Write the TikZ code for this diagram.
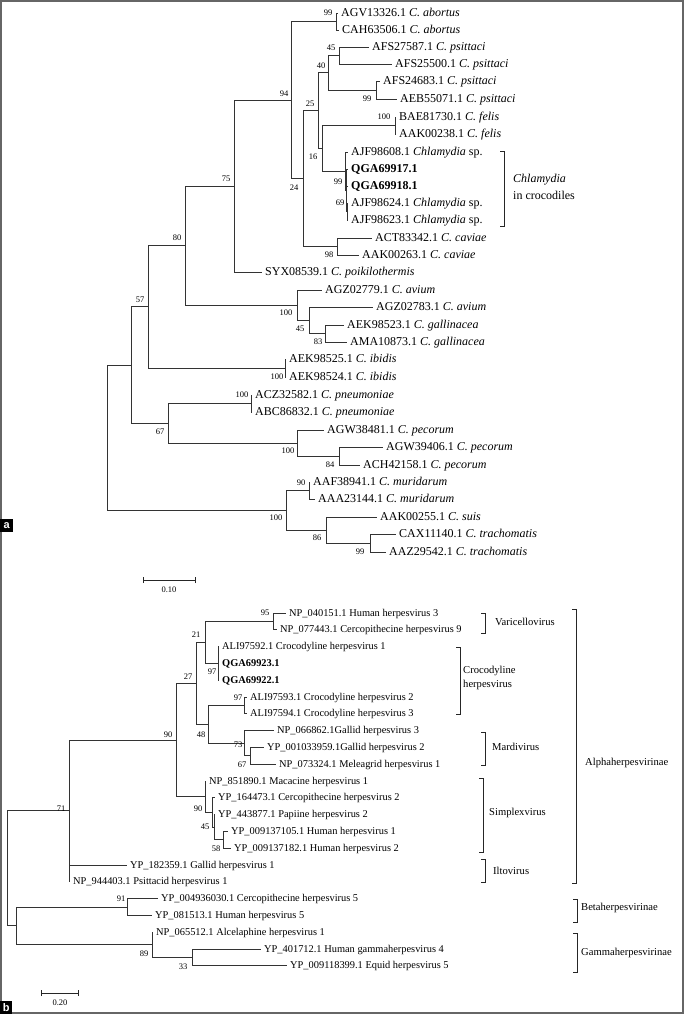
\documentclass[tikz,border=0pt]{standalone}
\usepackage{fontspec}
\setmainfont{Liberation Serif}
\newfontfamily\panelfont{Liberation Sans}
\begin{document}
\begin{tikzpicture}[x=1pt,y=-1pt,
  br/.style={draw=black!80, line width=0.9pt},
  la/.style={anchor=west, inner xsep=3pt, inner ysep=0pt, text height=9pt, text depth=2pt, font=\fontsize{12}{12}\selectfont},
  lb/.style={anchor=west, inner xsep=3pt, inner ysep=0pt, text height=7.6pt, text depth=1.6pt, font=\fontsize{10.4}{11}\selectfont},
  bs/.style={inner sep=0pt, font=\fontsize{8.5}{9}\selectfont},
  grpa/.style={anchor=west, inner sep=0pt, font=\fontsize{12}{12}\selectfont},
  grpb/.style={anchor=west, inner sep=0pt, font=\fontsize{10.6}{11}\selectfont},
  brk/.style={draw=black!85, line width=0.9pt},
  sbar/.style={draw=black!85, line width=0.9pt},
  plab/.style={fill=black, text=white, inner sep=0pt, minimum width=13pt, minimum height=13pt, font=\panelfont\bfseries\fontsize{11}{11}\selectfont}
]
\useasboundingbox (0,0) rectangle (684,1014);
\draw[draw=black!60, line width=2pt] (1,1) rectangle (683,1013);

%%%%%%%%%%%%%%%% PANEL A %%%%%%%%%%%%%%%%
\coordinate (ra) at (107,437.6);
\coordinate (nA) at (131,365);
\coordinate (n57) at (148,306.8);
\coordinate (n80) at (185,245.6);
\coordinate (n75) at (234,186);
\coordinate (n94) at (291,100);
\coordinate (n99a) at (336,21.5);
\coordinate (n24) at (303,178.5);
\coordinate (n25) at (318,110.5);
\coordinate (n40) at (328,72.75);
\coordinate (n45) at (339,55.5);
\coordinate (n99p) at (376,90);
\coordinate (n16) at (322,148.3);
\coordinate (n100f) at (395,125.5);
\coordinate (n99c) at (345,171.1);
\coordinate (ncs) at (346,190.25);
\coordinate (n69) at (347,211.5);
\coordinate (n98) at (337,246.5);
\coordinate (n100v) at (297,305.1);
\coordinate (n45b) at (309,320.25);
\coordinate (n83) at (325,333.5);
\coordinate (n100i) at (285,368);
\coordinate (n67) at (168,423.25);
\coordinate (n100pn) at (251,403.5);
\coordinate (n100pe) at (297,443);
\coordinate (n84) at (339,456);
\coordinate (n100m) at (286,510.25);
\coordinate (n90m) at (309,490.5);
\coordinate (n86) at (326,530);
\coordinate (n99t) at (370,543);

\node[la] (a1) at (338,13) {AGV13326.1 \textit{C. abortus}};
\node[la] (a2) at (339,30) {CAH63506.1 \textit{C. abortus}};
\node[la] (a3) at (369,47) {AFS27587.1 \textit{C. psittaci}};
\node[la] (a4) at (392,64) {AFS25500.1 \textit{C. psittaci}};
\node[la] (a5) at (380,81) {AFS24683.1 \textit{C. psittaci}};
\node[la] (a6) at (397,99) {AEB55071.1 \textit{C. psittaci}};
\node[la] (a7) at (396,117) {BAE81730.1 \textit{C. felis}};
\node[la] (a8) at (396,134) {AAK00238.1 \textit{C. felis}};
\node[la] (a9) at (348,152) {AJF98608.1 \textit{Chlamydia} sp.};
\node[la] (a10) at (348,169) {\textbf{QGA69917.1}};
\node[la] (a11) at (348,186) {\textbf{QGA69918.1}};
\node[la] (a12) at (348,203) {AJF98624.1 \textit{Chlamydia} sp.};
\node[la] (a13) at (348,220) {AJF98623.1 \textit{Chlamydia} sp.};
\node[la] (a14) at (372,238) {ACT83342.1 \textit{C. caviae}};
\node[la] (a15) at (359,255) {AAK00263.1 \textit{C. caviae}};
\node[la] (a16) at (262,272) {SYX08539.1 \textit{C. poikilothermis}};
\node[la] (a17) at (322,290) {AGZ02779.1 \textit{C. avium}};
\node[la] (a18) at (373,307) {AGZ02783.1 \textit{C. avium}};
\node[la] (a19) at (344,325) {AEK98523.1 \textit{C. gallinacea}};
\node[la] (a20) at (347,342) {AMA10873.1 \textit{C. gallinacea}};
\node[la] (a21) at (286,359) {AEK98525.1 \textit{C. ibidis}};
\node[la] (a22) at (286,377) {AEK98524.1 \textit{C. ibidis}};
\node[la] (a23) at (252,395) {ACZ32582.1 \textit{C. pneumoniae}};
\node[la] (a24) at (252,412) {ABC86832.1 \textit{C. pneumoniae}};
\node[la] (a25) at (324,430) {AGW38481.1 \textit{C. pecorum}};
\node[la] (a26) at (383,447) {AGW39406.1 \textit{C. pecorum}};
\node[la] (a27) at (360,465) {ACH42158.1 \textit{C. pecorum}};
\node[la] (a28) at (310,482) {AAF38941.1 \textit{C. muridarum}};
\node[la] (a29) at (315,499) {AAA23144.1 \textit{C. muridarum}};
\node[la] (a30) at (377,517) {AAK00255.1 \textit{C. suis}};
\node[la] (a31) at (396,534) {CAX11140.1 \textit{C. trachomatis}};
\node[la] (a32) at (386,552) {AAZ29542.1 \textit{C. trachomatis}};

\draw[br] (ra) |- (nA);  \draw[br] (ra) |- (n100m);
\draw[br] (nA) |- (n57); \draw[br] (nA) |- (n67);
\draw[br] (n57) |- (n80); \draw[br] (n57) |- (n100i);
\draw[br] (n80) |- (n75); \draw[br] (n80) |- (n100v);
\draw[br] (n75) |- (n94); \draw[br] (n75) |- (a16.west);
\draw[br] (n94) |- (n99a); \draw[br] (n94) |- (n24);
\draw[br] (n99a) |- (a1.west); \draw[br] (n99a) |- (a2.west);
\draw[br] (n24) |- (n25); \draw[br] (n24) |- (n98);
\draw[br] (n25) |- (n40); \draw[br] (n25) |- (n16);
\draw[br] (n40) |- (n45); \draw[br] (n40) |- (n99p);
\draw[br] (n45) |- (a3.west); \draw[br] (n45) |- (a4.west);
\draw[br] (n99p) |- (a5.west); \draw[br] (n99p) |- (a6.west);
\draw[br] (n16) |- (n100f); \draw[br] (n16) |- (n99c);
\draw[br] (n100f) |- (a7.west); \draw[br] (n100f) |- (a8.west);
\draw[br] (n99c) |- (a9.west); \draw[br] (n99c) |- (ncs);
\draw[br] (ncs) |- (a10.west); \draw[br] (ncs) |- (a11.west); \draw[br] (ncs) |- (n69);
\draw[br] (n69) |- (a12.west); \draw[br] (n69) |- (a13.west);
\draw[br] (n98) |- (a14.west); \draw[br] (n98) |- (a15.west);
\draw[br] (n100v) |- (a17.west); \draw[br] (n100v) |- (n45b);
\draw[br] (n45b) |- (a18.west); \draw[br] (n45b) |- (n83);
\draw[br] (n83) |- (a19.west); \draw[br] (n83) |- (a20.west);
\draw[br] (n100i) |- (a21.west); \draw[br] (n100i) |- (a22.west);
\draw[br] (n67) |- (n100pn); \draw[br] (n67) |- (n100pe);
\draw[br] (n100pn) |- (a23.west); \draw[br] (n100pn) |- (a24.west);
\draw[br] (n100pe) |- (a25.west); \draw[br] (n100pe) |- (n84);
\draw[br] (n84) |- (a26.west); \draw[br] (n84) |- (a27.west);
\draw[br] (n100m) |- (n90m); \draw[br] (n100m) |- (n86);
\draw[br] (n90m) |- (a28.west); \draw[br] (n90m) |- (a29.west);
\draw[br] (n86) |- (a30.west); \draw[br] (n86) |- (n99t);
\draw[br] (n99t) |- (a31.west); \draw[br] (n99t) |- (a32.west);

% bootstrap values a
\node[bs] (ba1) at (328,13) {99};
\node[bs] (ba2) at (331,48) {45};
\node[bs] (ba3) at (321,66) {40};
\node[bs] (ba4) at (367,99) {99};
\node[bs] (ba5) at (284,94) {94};
\node[bs] (ba6) at (310,104) {25};
\node[bs] (ba7) at (384,117) {100};
\node[bs] (ba8) at (313,157) {16};
\node[bs] (ba9) at (294,188) {24};
\node[bs] (ba10) at (338,182) {99};
\node[bs] (ba11) at (340,203) {69};
\node[bs] (ba12) at (226,179) {75};
\node[bs] (ba13) at (329,255) {98};
\node[bs] (ba14) at (177,238) {80};
\node[bs] (ba15) at (140,300) {57};
\node[bs] (ba16) at (286,313) {100};
\node[bs] (ba17) at (300,329) {45};
\node[bs] (ba18) at (318,342) {83};
\node[bs] (ba19) at (277,377) {100};
\node[bs] (ba20) at (242,395) {100};
\node[bs] (ba21) at (160,432) {67};
\node[bs] (ba22) at (288,451) {100};
\node[bs] (ba23) at (330,465) {84};
\node[bs] (ba24) at (301,483) {90};
\node[bs] (ba25) at (276,518) {100};
\node[bs] (ba26) at (317,538) {86};
\node[bs] (ba27) at (360,552) {99};

% clade bracket a
\draw[brk] (500,151) -- (504,151) -- (504,226) -- (500,226);
\node[grpa] (ga1) at (513,180) {\textit{Chlamydia}};
\node[grpa] (ga2) at (513,195) {in crocodiles};

% scale bar a
\coordinate (sa1) at (143,580);
\coordinate (sa2) at (195,580);
\draw[sbar] (sa1) -- (sa2);
\draw[sbar] ([yshift=-3pt]sa1) -- ([yshift=3pt]sa1);
\draw[sbar] ([yshift=-3pt]sa2) -- ([yshift=3pt]sa2);
\node[bs] (sal) at (169,590) {0.10};

\node[plab, anchor=north west] (pa) at (0,519) {a};

%%%%%%%%%%%%%%%% PANEL B %%%%%%%%%%%%%%%%
\coordinate (m95) at (273,621.4);
\coordinate (m97) at (218,663.4);
\coordinate (m21) at (205,642.4);
\coordinate (m97b) at (244,705.4);
\coordinate (m67) at (250,755.8);
\coordinate (m73) at (244,743.2);
\coordinate (m48) at (208,724.3);
\coordinate (m27) at (196,683.35);
\coordinate (m58) at (223,839.8);
\coordinate (m45) at (214,827.2);
\coordinate (m90s) at (212,812.5);
\coordinate (mS) at (205,796.75);
\coordinate (m90) at (176,740);
\coordinate (m71) at (69,810.9);
\coordinate (m91) at (127,907);
\coordinate (m33) at (192,957.4);
\coordinate (m89) at (152,944.8);
\coordinate (mBG) at (16,925.9);
\coordinate (rb) at (7,868.4);

\node[lb] (b1) at (286,613.0) {NP\_040151.1 Human herpesvirus 3};
\node[lb] (b2) at (277,629.8) {NP\_077443.1 Cercopithecine herpesvirus 9};
\node[lb] (b3) at (219,646.6) {ALI97592.1 Crocodyline herpesvirus 1};
\node[lb] (b4) at (219,663.4) {\textbf{QGA69923.1}};
\node[lb] (b5) at (219,680.2) {\textbf{QGA69922.1}};
\node[lb] (b6) at (247,697.0) {ALI97593.1 Crocodyline herpesvirus 2};
\node[lb] (b7) at (247,713.8) {ALI97594.1 Crocodyline herpesvirus 3};
\node[lb] (b8) at (274,730.6) {NP\_066862.1Gallid herpesvirus 3};
\node[lb] (b9) at (264,747.4) {YP\_001033959.1Gallid herpesvirus 2};
\node[lb] (b10) at (276,764.2) {NP\_073324.1 Meleagrid herpesvirus 1};
\node[lb] (b11) at (206,781.0) {NP\_851890.1 Macacine herpesvirus 1};
\node[lb] (b12) at (215,797.8) {YP\_164473.1 Cercopithecine herpesvirus 2};
\node[lb] (b13) at (215,814.6) {YP\_443877.1 Papiine herpesvirus 2};
\node[lb] (b14) at (228,831.4) {YP\_009137105.1 Human herpesvirus 1};
\node[lb] (b15) at (231,848.2) {YP\_009137182.1 Human herpesvirus 2};
\node[lb] (b16) at (127,865.0) {YP\_182359.1 Gallid herpesvirus 1};
\node[lb] (b17) at (70,881.8) {NP\_944403.1 Psittacid herpesvirus 1};
\node[lb] (b18) at (158,898.6) {YP\_004936030.1 Cercopithecine herpesvirus 5};
\node[lb] (b19) at (152,915.4) {YP\_081513.1 Human herpesvirus 5};
\node[lb] (b20) at (153,932.2) {NP\_065512.1 Alcelaphine herpesvirus 1};
\node[lb] (b21) at (261,949.0) {YP\_401712.1 Human gammaherpesvirus 4};
\node[lb] (b22) at (287,965.8) {YP\_009118399.1 Equid herpesvirus 5};

\draw[br] (rb) |- (m71); \draw[br] (rb) |- (mBG);
\draw[br] (m71) |- (m90); \draw[br] (m71) |- (b16.west); \draw[br] (m71) |- (b17.west);
\draw[br] (m90) |- (m27); \draw[br] (m90) |- (mS);
\draw[br] (m27) |- (m21); \draw[br] (m27) |- (m48);
\draw[br] (m21) |- (m95); \draw[br] (m21) |- (m97);
\draw[br] (m95) |- (b1.west); \draw[br] (m95) |- (b2.west);
\draw[br] (m97) |- (b3.west); \draw[br] (m97) |- (b4.west); \draw[br] (m97) |- (b5.west);
\draw[br] (m48) |- (m97b); \draw[br] (m48) |- (m73);
\draw[br] (m97b) |- (b6.west); \draw[br] (m97b) |- (b7.west);
\draw[br] (m73) |- (b8.west); \draw[br] (m73) |- (m67);
\draw[br] (m67) |- (b9.west); \draw[br] (m67) |- (b10.west);
\draw[br] (mS) |- (b11.west); \draw[br] (mS) |- (m90s);
\draw[br] (m90s) |- (b12.west); \draw[br] (m90s) |- (m45);
\draw[br] (m45) |- (b13.west); \draw[br] (m45) |- (m58);
\draw[br] (m58) |- (b14.west); \draw[br] (m58) |- (b15.west);
\draw[br] (mBG) |- (m91); \draw[br] (mBG) |- (m89);
\draw[br] (m91) |- (b18.west); \draw[br] (m91) |- (b19.west);
\draw[br] (m89) |- (b20.west); \draw[br] (m89) |- (m33);
\draw[br] (m33) |- (b21.west); \draw[br] (m33) |- (b22.west);

\node[bs] (bb1) at (265,613) {95};
\node[bs] (bb2) at (196,635) {21};
\node[bs] (bb3) at (212,672) {97};
\node[bs] (bb4) at (188,677) {27};
\node[bs] (bb5) at (238,698) {97};
\node[bs] (bb6) at (201,735) {48};
\node[bs] (bb7) at (238,745) {73};
\node[bs] (bb8) at (242,765) {67};
\node[bs] (bb9) at (168,735) {90};
\node[bs] (bb10) at (198,809) {90};
\node[bs] (bb11) at (205,827) {45};
\node[bs] (bb12) at (216,849) {58};
\node[bs] (bb13) at (61,809) {71};
\node[bs] (bb14) at (121,899) {91};
\node[bs] (bb15) at (144,954) {89};
\node[bs] (bb16) at (183,967) {33};

% clade brackets b
\draw[brk] (481,613) -- (485,613) -- (485,633) -- (481,633);
\node[grpb] (gb1) at (495,622) {Varicellovirus};
\draw[brk] (456,647) -- (460,647) -- (460,714) -- (456,714);
\node[grpb] (gb2) at (463,671) {Crocodyline};
\node[grpb] (gb3) at (463,685) {herpesvirus};
\draw[brk] (481,732) -- (485,732) -- (485,765) -- (481,765);
\node[grpb] (gb4) at (492,747) {Mardivirus};
\draw[brk] (479,778) -- (483,778) -- (483,852) -- (479,852);
\node[grpb] (gb5) at (489,813) {Simplexvirus};
\draw[brk] (481,859) -- (485,859) -- (485,882) -- (481,882);
\node[grpb] (gb6) at (493,871) {Iltovirus};
\draw[brk] (572,609) -- (576,609) -- (576,883) -- (572,883);
\node[grpb] (gb7) at (585,763) {Alphaherpesvirinae};
\draw[brk] (573,899) -- (577,899) -- (577,922) -- (573,922);
\node[grpb] (gb8) at (581,908) {Betaherpesvirinae};
\draw[brk] (573,933) -- (577,933) -- (577,972) -- (573,972);
\node[grpb] (gb9) at (581,953) {Gammaherpesvirinae};

% scale bar b
\coordinate (sb1) at (41,993);
\coordinate (sb2) at (78,993);
\draw[sbar] (sb1) -- (sb2);
\draw[sbar] ([yshift=-3pt]sb1) -- ([yshift=3pt]sb1);
\draw[sbar] ([yshift=-3pt]sb2) -- ([yshift=3pt]sb2);
\node[bs] (sbl) at (60,1003) {0.20};

\node[plab, anchor=south west, minimum width=12pt] (pb) at (0,1014) {b};
\end{tikzpicture}
\end{document}
